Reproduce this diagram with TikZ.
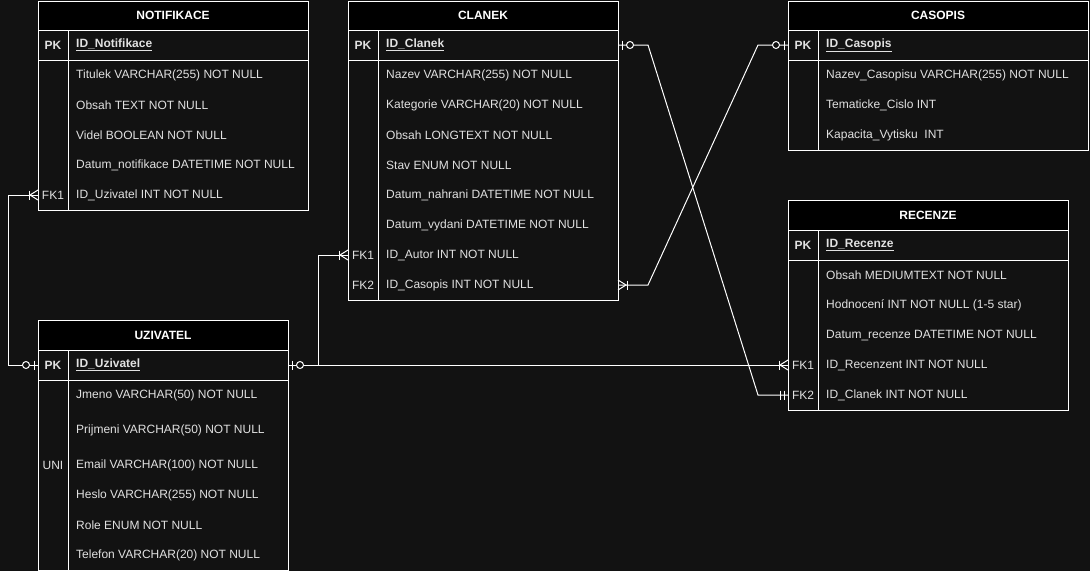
\documentclass[tikz,border=0pt]{standalone}
\usepackage{fontspec}
\setmainfont{Liberation Sans}
\definecolor{bgc}{RGB}{18,18,18}
\definecolor{txtc}{RGB}{225,225,225}
\begin{document}
\begin{tikzpicture}[x=1pt,y=-1pt,
  line/.style={draw=white, line width=1pt},
  ttl/.style={font=\fontsize{12}{14}\selectfont\bfseries, text=white, inner sep=0},
  fld/.style={font=\fontsize{12}{14}\selectfont, text=txtc, anchor=west, inner sep=0},
  key/.style={font=\fontsize{12}{14}\selectfont, text=txtc, inner sep=0},
  pkk/.style={font=\fontsize{12}{14}\selectfont\bfseries, text=txtc, inner sep=0},
  pkf/.style={font=\fontsize{12}{14}\selectfont\bfseries, text=txtc, anchor=west, inner sep=0},
  conn/.style={draw=white, line width=1pt},
  zeroone/.pic={\draw[conn] (4,-4.5)--(4,4.5); \draw[conn, fill=bgc] (12,0) circle (3.5);},
  onemany/.pic={\draw[conn] (9,-4.5)--(9,4.5); \draw[conn] (0,-5)--(8,0)--(0,5);},
  mandone/.pic={\draw[conn] (4,-4.5)--(4,4.5) (8,-4.5)--(8,4.5);}]
\fill[bgc] (0,0) rectangle (1090,571);
\useasboundingbox (0,0) rectangle (1090,571);

% ---------- NOTIFIKACE ----------
\fill[black] (38,1) rectangle (308,30);
\draw[line] (38,1) rectangle (308,210) (38,30)--(308,30) (38,60)--(308,60) (68,30)--(68,210);
\node[ttl] (nT) at (173,15.5) {NOTIFIKACE};
\node[pkk] (nPK) at (53,45) {PK};
\node[pkf] (nID) at (76,45) {\underline{ID\_Notifikace}};
\node[fld] (n1) at (76,75) {Titulek VARCHAR(255) NOT NULL};
\node[fld] (n2) at (76,105) {Obsah TEXT NOT NULL};
\node[fld] (n3) at (76,135) {Videl BOOLEAN NOT NULL};
\node[fld] (n4) at (76,165) {Datum\_notifikace DATETIME NOT NULL};
\node[key] (nFK) at (53,195) {FK1};
\node[fld] (n5) at (76,195) {ID\_Uzivatel INT NOT NULL};

% ---------- UZIVATEL ----------
\fill[black] (38,320) rectangle (288,350);
\draw[line] (38,320) rectangle (288,570) (38,350)--(288,350) (38,380)--(288,380) (68,350)--(68,570);
\node[ttl] (uT) at (163,335) {UZIVATEL};
\node[pkk] (uPK) at (53,365) {PK};
\node[pkf] (uID) at (76,365) {\underline{ID\_Uzivatel}};
\node[fld] (u1) at (76,395) {Jmeno VARCHAR(50) NOT NULL};
\node[fld] (u2) at (76,430) {Prijmeni VARCHAR(50) NOT NULL};
\node[key] (uUNI) at (53,465) {UNI};
\node[fld] (u3) at (76,465) {Email VARCHAR(100) NOT NULL};
\node[fld] (u4) at (76,495) {Heslo VARCHAR(255) NOT NULL};
\node[fld] (u5) at (76,525) {Role ENUM NOT NULL};
\node[fld] (u6) at (76,555) {Telefon VARCHAR(20) NOT NULL};

% ---------- CLANEK ----------
\fill[black] (348,1) rectangle (618,30);
\draw[line] (348,1) rectangle (618,300) (348,30)--(618,30) (348,60)--(618,60) (378,30)--(378,300);
\node[ttl] (cT) at (483,15.5) {CLANEK};
\node[pkk] (cPK) at (363,45) {PK};
\node[pkf] (cID) at (386,45) {\underline{ID\_Clanek}};
\node[fld] (c1) at (386,75) {Nazev VARCHAR(255) NOT NULL};
\node[fld] (c2) at (386,105) {Kategorie VARCHAR(20) NOT NULL};
\node[fld] (c3) at (386,135) {Obsah LONGTEXT NOT NULL};
\node[fld] (c4) at (386,165) {Stav ENUM NOT NULL};
\node[fld] (c5) at (386,195) {Datum\_nahrani DATETIME NOT NULL};
\node[fld] (c6) at (386,225) {Datum\_vydani DATETIME NOT NULL};
\node[key] (cFK1) at (363,255) {FK1};
\node[fld] (c7) at (386,255) {ID\_Autor INT NOT NULL};
\node[key] (cFK2) at (363,285) {FK2};
\node[fld] (c8) at (386,285) {ID\_Casopis INT NOT NULL};

% ---------- CASOPIS ----------
\fill[black] (788,1) rectangle (1088,30);
\draw[line] (788,1) rectangle (1088,150) (788,30)--(1088,30) (788,60)--(1088,60) (818,30)--(818,150);
\node[ttl] (kT) at (938,15.5) {CASOPIS};
\node[pkk] (kPK) at (803,45) {PK};
\node[pkf] (kID) at (826,45) {\underline{ID\_Casopis}};
\node[fld] (k1) at (826,75) {Nazev\_Casopisu VARCHAR(255) NOT NULL};
\node[fld] (k2) at (826,105) {Tematicke\_Cislo INT};
\node[fld] (k3) at (826,135) {Kapacita\_Vytisku\ \ INT};

% ---------- RECENZE ----------
\fill[black] (788,200) rectangle (1068,230);
\draw[line] (788,200) rectangle (1068,410) (788,230)--(1068,230) (788,260)--(1068,260) (818,230)--(818,410);
\node[ttl] (rT) at (928,215) {RECENZE};
\node[pkk] (rPK) at (803,245) {PK};
\node[pkf] (rID) at (826,245) {\underline{ID\_Recenze}};
\node[fld] (r1) at (826,275) {Obsah MEDIUMTEXT NOT NULL};
\node[fld] (r2) at (826,305) {Hodnocení INT NOT NULL (1-5 star)};
\node[fld] (r3) at (826,335) {Datum\_recenze DATETIME NOT NULL};
\node[key] (rFK1) at (803,365) {FK1};
\node[fld] (r4) at (826,365) {ID\_Recenzent INT NOT NULL};
\node[key] (rFK2) at (803,395) {FK2};
\node[fld] (r5) at (826,395) {ID\_Clanek INT NOT NULL};

% ---------- attachment points ----------
\coordinate (nfk) at (38,195);
\coordinate (upkl) at (38,365);
\coordinate (upkr) at (288,365);
\coordinate (cfk1) at (348,255);
\coordinate (cpk) at (618,45);
\coordinate (cfk2) at (618,285);
\coordinate (kpk) at (788,45);
\coordinate (rfk1) at (788,365);
\coordinate (rfk2) at (788,395);

% ---------- connectors ----------
\draw[conn] (nfk) -- ++(-30,0) |- (upkl);
\draw[conn] (upkr) -- ++(30,0) |- (cfk1);
\draw[conn] (upkr) -- (rfk1);
\draw[conn] (cpk) -- ++(30,0) -- ([xshift=-30pt]rfk2) -- (rfk2);
\draw[conn] (kpk) -- ++(-30,0) -- ([xshift=30pt]cfk2) -- (cfk2);

% ---------- end markers ----------
\pic[xscale=-1] at (nfk) {onemany};
\pic[xscale=-1] at (upkl) {zeroone};
\pic at (upkr) {zeroone};
\pic[xscale=-1] at (cfk1) {onemany};
\pic[xscale=-1] at (rfk1) {onemany};
\pic at (cpk) {zeroone};
\pic[xscale=-1] at (rfk2) {mandone};
\pic[xscale=-1] at (kpk) {zeroone};
\pic at (cfk2) {onemany};
\end{tikzpicture}
\end{document}
